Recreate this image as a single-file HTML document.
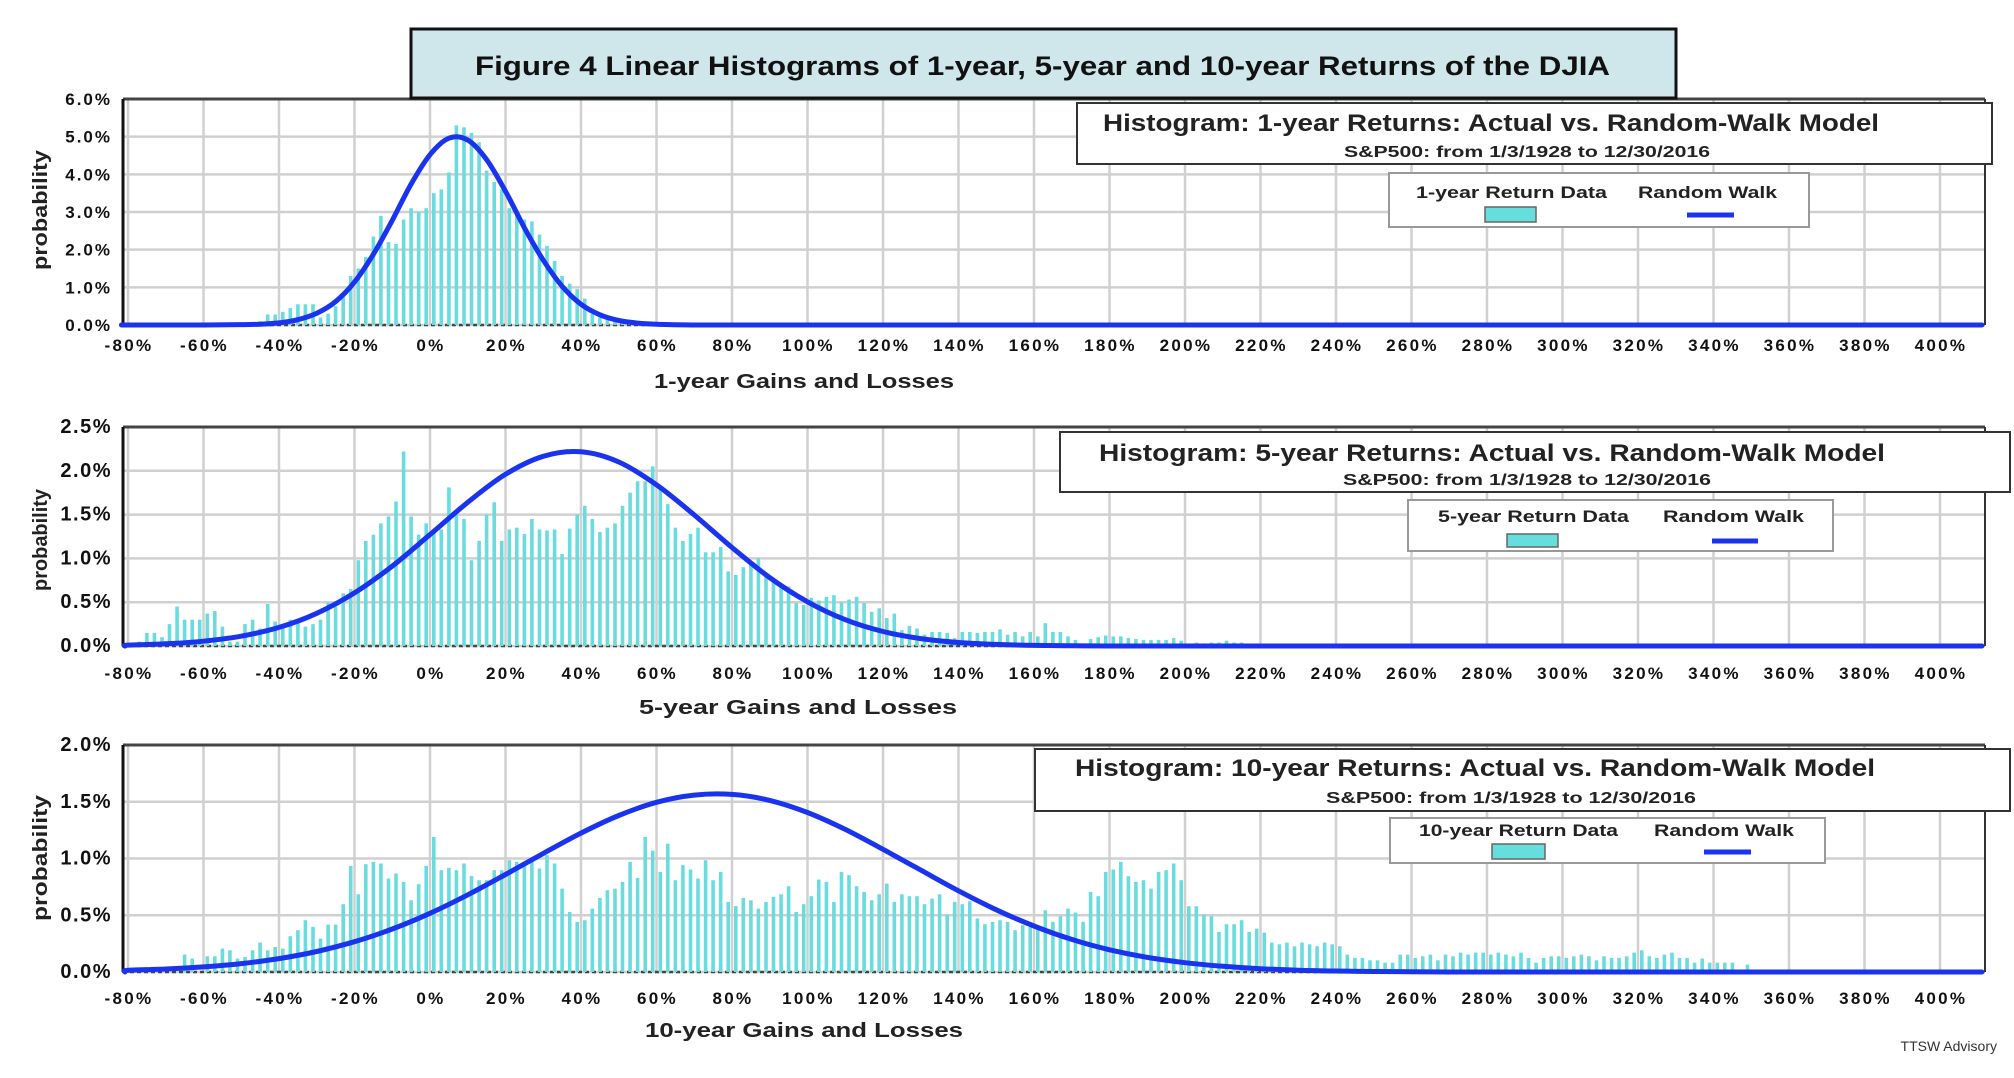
<!DOCTYPE html>
<html><head><meta charset="utf-8"><title>Figure 4 Linear Histograms</title>
<style>
html,body{margin:0;padding:0;background:#fff;}
svg{display:block;font-family:"Liberation Sans",Arial,sans-serif;}
.tk{font-size:17px;font-weight:bold;fill:#111;letter-spacing:2.3px;}
.yt{font-size:17px;font-weight:bold;fill:#111;letter-spacing:2px;}
.yt2{font-size:20px;font-weight:bold;fill:#111;letter-spacing:1.5px;}
.ax{font-size:20px;font-weight:bold;fill:#222;}
.lg{font-size:17px;font-weight:bold;fill:#222;}
.ht{font-size:24px;font-weight:bold;fill:#222;}
.st{font-size:16px;font-weight:bold;fill:#222;}
</style></head>
<body>
<svg id="fig" width="2014" height="1078" viewBox="0 0 2014 1078" xmlns="http://www.w3.org/2000/svg">
<g id="layer-grid"></g>
<g id="layer-bars"></g>
<g id="layer-curve"></g>
<g id="layer-text"></g>

<g>
<rect x="411" y="29" width="1265" height="69" fill="#cfe6ea" stroke="#111" stroke-width="3"/>
<text x="475" y="75" font-size="27" font-weight="bold" fill="#111" textLength="1135" lengthAdjust="spacingAndGlyphs">Figure 4 Linear Histograms of 1-year, 5-year and 10-year Returns of the DJIA</text>
</g>

<g>
<rect x="1077" y="103" width="915" height="61" fill="#fff" stroke="#333" stroke-width="2"/>
<text class="ht" x="1103" y="131" textLength="776" lengthAdjust="spacingAndGlyphs">Histogram: 1-year Returns: Actual vs. Random-Walk Model</text>
<text class="st" x="1344" y="157" textLength="366" lengthAdjust="spacingAndGlyphs">S&amp;P500: from 1/3/1928 to 12/30/2016</text>
</g>
<g>
<rect x="1389" y="173" width="420" height="54" fill="#fff" stroke="#999" stroke-width="2"/>
<text class="lg" x="1416" y="198" textLength="191" lengthAdjust="spacingAndGlyphs">1-year Return Data</text>
<text class="lg" x="1638" y="198" textLength="139" lengthAdjust="spacingAndGlyphs">Random Walk</text>
<rect x="1485" y="207" width="51" height="15" fill="#66dede" stroke="#666" stroke-width="1.5"/>
<line x1="1687" y1="215" x2="1734" y2="215" stroke="#1a33ee" stroke-width="5"/>
</g>

<g>
<rect x="1060" y="432" width="950" height="60" fill="#fff" stroke="#333" stroke-width="2"/>
<text class="ht" x="1099" y="461" textLength="786" lengthAdjust="spacingAndGlyphs">Histogram: 5-year Returns: Actual vs. Random-Walk Model</text>
<text class="st" x="1343" y="485" textLength="368" lengthAdjust="spacingAndGlyphs">S&amp;P500: from 1/3/1928 to 12/30/2016</text>
</g>
<g>
<rect x="1408" y="500" width="425" height="51" fill="#fff" stroke="#999" stroke-width="2"/>
<text class="lg" x="1438" y="522" textLength="191" lengthAdjust="spacingAndGlyphs">5-year Return Data</text>
<text class="lg" x="1663" y="522" textLength="141" lengthAdjust="spacingAndGlyphs">Random Walk</text>
<rect x="1507" y="534" width="51" height="13" fill="#66dede" stroke="#666" stroke-width="1.5"/>
<line x1="1712" y1="541" x2="1758" y2="541" stroke="#1a33ee" stroke-width="5"/>
</g>

<g>
<rect x="1035" y="749" width="975" height="62" fill="#fff" stroke="#333" stroke-width="2"/>
<text class="ht" x="1075" y="776" textLength="800" lengthAdjust="spacingAndGlyphs">Histogram: 10-year Returns: Actual vs. Random-Walk Model</text>
<text class="st" x="1326" y="803" textLength="370" lengthAdjust="spacingAndGlyphs">S&amp;P500: from 1/3/1928 to 12/30/2016</text>
</g>
<g>
<rect x="1390" y="818" width="435" height="45" fill="#fff" stroke="#999" stroke-width="2"/>
<text class="lg" x="1419" y="836" textLength="199" lengthAdjust="spacingAndGlyphs">10-year Return Data</text>
<text class="lg" x="1654" y="836" textLength="140" lengthAdjust="spacingAndGlyphs">Random Walk</text>
<rect x="1492" y="844" width="53" height="15" fill="#66dede" stroke="#666" stroke-width="1.5"/>
<line x1="1704" y1="852" x2="1751" y2="852" stroke="#1a33ee" stroke-width="5"/>
</g>

<text x="1997" y="1051" text-anchor="end" font-size="14" fill="#333">TTSW Advisory</text>
</svg>

<script>
// ---------- shared axis data ----------
const xTickValues = [-80,-60,-40,-20,0,20,40,60,80,100,120,140,160,180,200,220,240,260,280,300,320,340,360,380,400];
const xTickLabels = ["-80%","-60%","-40%","-20%","0%","20%","40%","60%","80%","100%","120%","140%","160%","180%","200%","220%","240%","260%","280%","300%","320%","340%","360%","380%","400%"];

// ---------- panel 1 (1-year) ----------
const yTicks1 = [0,1,2,3,4,5,6];
const yLabels1 = ["0.0%","1.0%","2.0%","3.0%","4.0%","5.0%","6.0%"];
const bins1 = [-57,-53,-49,-47,-45,-43,-41,-39,-37,-35,-33,-31,-29,-27,-25,-23,-21,-19,-17,-15,-13,-11,-9,-7,-5,-3,-1,1,3,5,7,9,11,13,15,17,19,21,23,25,27,29,31,33,35,37,39,41,43,45,47,49,51,53,55,57];
const vals1 = [0.03,0.05,0.04,0.05,0.1,0.28,0.28,0.35,0.45,0.55,0.55,0.55,0.2,0.3,0.5,0.75,1.3,1.5,1.8,2.35,2.9,2.2,2.15,2.8,3.1,3.0,3.1,3.5,3.6,4.05,5.3,5.25,5.1,4.85,4.1,3.8,3.6,3.1,2.95,2.8,2.75,2.4,2.1,1.7,1.3,1.1,0.95,0.7,0.3,0.2,0.15,0.1,0.08,0.05,0.05,0.05];
const curveX1 = [-80,-60,-50,-45,-40,-35,-30,-25,-20,-15,-10,-5,0,5,10,15,20,25,30,35,40,45,50,55,60,70];
const curveY1 = [0,0,0.01,0.02,0.056,0.14,0.31,0.62,1.14,1.88,2.78,3.74,4.52,4.96,4.91,4.39,3.55,2.58,1.72,1.03,0.55,0.27,0.12,0.05,0.02,0];

// ---------- panel 2 (5-year) ----------
const yTicks2 = [0,0.5,1,1.5,2,2.5];
const yLabels2 = ["0.0%","0.5%","1.0%","1.5%","2.0%","2.5%"];
const bins2 = [-77,-75,-73,-71,-69,-67,-65,-63,-61,-59,-57,-55,-53,-51,-49,-47,-45,-43,-41,-39,-37,-35,-33,-31,-29,-27,-25,-23,-21,-19,-17,-15,-13,-11,-9,-7,-5,-3,-1,1,3,5,7,9,11,13,15,17,19,21,23,25,27,29,31,33,35,37,39,41,43,45,47,49,51,53,55,57,59,61,63,65,67,69,71,73,75,77,79,81,83,85,87,89,91,93,95,97,99,101,103,105,107,109,111,113,115,117,119,121,123,125,127,129,131,133,135,137,139,141,143,145,147,149,151,153,155,157,159,161,163,165,167,169,171,173,175,177,179,181,183,185,187,189,191,193,195,197,199,201,203,205,207,209,211,213,215];
const vals2 = [0.05,0.15,0.15,0.1,0.25,0.45,0.3,0.3,0.3,0.37,0.4,0.22,0.05,0.05,0.25,0.3,0.2,0.48,0.28,0.25,0.3,0.27,0.22,0.25,0.3,0.5,0.45,0.6,0.65,0.98,1.2,1.27,1.4,1.48,1.65,2.22,1.48,1.27,1.4,1.3,1.33,1.81,1.5,1.45,0.98,1.2,1.5,1.64,1.2,1.33,1.35,1.28,1.45,1.33,1.32,1.33,1.05,1.34,1.5,1.6,1.45,1.3,1.35,1.4,1.6,1.75,1.88,1.88,2.05,1.83,1.62,1.35,1.2,1.28,1.35,1.07,1.07,
 1.13,0.85,0.81,0.9,0.97,1.0,0.81,0.74,0.68,0.68,0.49,0.47,0.55,0.52,0.56,0.58,0.5,0.53,0.56,0.49,0.39,0.43,0.32,0.37,0.18,0.23,0.2,0.13,0.16,0.16,0.15,0.09,0.16,0.16,0.15,0.16,0.16,0.19,0.13,0.16,0.11,0.16,0.11,0.26,0.16,0.16,0.11,0.07,0.01,0.08,0.1,0.12,0.11,0.11,0.09,0.08,0.07,0.07,0.07,0.07,0.09,0.06,0.03,0.04,0.03,0.04,0.04,0.06,0.04,0.04];
const curveX2 = [-80,-70,-60,-50,-40,-30,-20,-10,0,10,20,30,40,50,60,70,80,90,100,110,120,130,140,150,160,170,180];
const curveY2 = [0.01,0.025,0.055,0.112,0.212,0.373,0.606,0.912,1.272,1.64,1.96,2.166,2.217,2.1,1.84,1.496,1.124,0.78,0.504,0.3,0.166,0.085,0.04,0.018,0.007,0.002,0];

// ---------- panel 3 (10-year) ----------
const yTicks3 = [0,0.5,1,1.5,2];
const yLabels3 = ["0.0%","0.5%","1.0%","1.5%","2.0%"];
const bins3 = [-65,-63,-59,-57,-55,-53,-51,-49,-47,-45,-43,-41,-39,-37,-35,-33,-31,-29,-27,-25,-23,-21,-19,-17,-15,-13,-11,-9,-7,-5,-3,-1,1,3,5,7,9,11,13,15,17,19,21,23,25,27,29,31,33,35,37,39,41,43,45,47,49,51,53,55,57,59,61,63,65,67,69,71,73,75,77,79,81,83,85,87,89,91,93,95,97,99,101,103,105,107,109,111,113,115,117,119,121,123,125,127,129,131,133,135,137,139,141,143,145,147,149,151,153,155,157,159,161,163,165,167,169,171,173,175,177,179,181,183,185,187,189,191,193,195,197,199,201,203,205,207,209,211,213,215,217,219,221,223,225,227,229,231,233,235,237,239,241,243,245,247,249,251,253,255,257,259,261,263,265,267,269,271,273,275,277,279,281,283,285,287,289,291,293,295,297,299,301,303,305,307,309,311,313,315,317,319,321,323,325,327,329,331,333,335,337,339,341,343,345,349];
const vals3 = [0.153,0.118,0.138,0.138,0.206,0.191,0.118,0.132,0.191,0.259,0.191,0.22,0.206,0.315,0.368,0.456,0.397,0.294,0.418,0.418,0.597,0.935,0.685,0.95,0.97,0.956,0.824,0.868,0.794,0.632,0.774,0.935,1.19,0.897,0.918,0.897,0.956,0.847,0.809,0.809,0.897,0.897,0.985,0.971,0.956,0.971,0.912,1.03,0.956,0.735,0.529,0.441,0.456,0.559,0.653,0.721,0.735,0.794,0.971,0.829,1.19,1.07,0.882,1.13,0.809,0.941,0.903,0.824,0.985,0.809,0.882,0.618,0.581,0.653,0.632,
 0.559,0.618,0.662,0.685,0.756,0.529,0.597,0.668,0.815,0.794,0.618,0.882,0.853,0.756,0.706,0.632,0.685,0.779,0.618,0.685,0.668,0.668,0.597,0.647,0.685,0.506,0.618,0.597,0.624,0.471,0.421,0.441,0.456,0.441,0.368,0.412,0.397,0.382,0.544,0.441,0.491,0.559,0.524,0.441,0.706,0.668,0.882,0.903,0.971,0.844,0.794,0.809,0.735,0.882,0.897,0.956,0.809,0.579,0.579,0.506,0.491,0.353,0.421,0.421,0.456,0.353,0.382,0.347,0.259,0.244,0.259,0.226,0.259,0.244,0.226,0.259,0.244,
 0.226,0.153,0.124,0.124,0.103,0.103,0.082,0.082,0.153,0.153,0.124,0.138,0.153,0.103,0.153,0.138,0.171,0.153,0.171,0.171,0.153,0.171,0.153,0.138,0.171,0.124,0.082,0.124,0.138,0.138,0.124,0.138,0.153,0.138,0.103,0.138,0.124,0.124,0.138,0.171,0.191,0.138,0.124,0.153,0.171,0.124,0.124,0.082,0.118,0.082,0.082,0.082,0.082,0.065];
const curveX3 = [-80,-70,-60,-50,-40,-30,-20,-10,0,10,20,30,40,50,60,70,80,90,100,110,120,130,140,150,160,170,180,190,200,210,220,230,240,250,270];
const curveY3 = [0.015,0.026,0.045,0.074,0.118,0.181,0.267,0.379,0.517,0.68,0.859,1.045,1.224,1.379,1.495,1.559,1.565,1.512,1.405,1.256,1.081,0.898,0.715,0.548,0.405,0.287,0.196,0.129,0.082,0.05,0.029,0.016,0.009,0.004,0];

// ---------- layout (pixels, not data) ----------
const X0 = 430, PX = 3.775, PLOT_L = 123, PLOT_R = 1985;
function xs(p){ return X0 + p*PX; }
const panels = [
 {id:'p1', top:99, bottom:325, max:6, yTicks:yTicks1, yLabels:yLabels1, bins:bins1, vals:vals1, cx:curveX1, cy:curveY1, ycls:'yt', xLabY:351, axTitle:'1-year Gains and Losses', axX:654, axY:388, axLen:300, pY:210, pLen:120},
 {id:'p2', top:427, bottom:646, max:2.5, yTicks:yTicks2, yLabels:yLabels2, bins:bins2, vals:vals2, cx:curveX2, cy:curveY2, ycls:'yt2', xLabY:679, axTitle:'5-year Gains and Losses', axX:639, axY:714, axLen:318, pY:540, pLen:102},
 {id:'p3', top:745, bottom:972, max:2, yTicks:yTicks3, yLabels:yLabels3, bins:bins3, vals:vals3, cx:curveX3, cy:curveY3, ycls:'yt2', xLabY:1004, axTitle:'10-year Gains and Losses', axX:645, axY:1037, axLen:318, pY:858, pLen:126}
];
const NS = 'http://www.w3.org/2000/svg';
function mk(tag, attrs, parent){
  const e = document.createElementNS(NS, tag);
  for (const k in attrs) e.setAttribute(k, attrs[k]);
  parent.appendChild(e); return e;
}
const gGrid = document.getElementById('layer-grid');
const gBars = document.getElementById('layer-bars');
const gCurve = document.getElementById('layer-curve');
const gText = document.getElementById('layer-text');

function smoothPath(pts){
  let d = 'M' + pts[0][0].toFixed(1) + ',' + pts[0][1].toFixed(1);
  for (let i=0;i<pts.length-1;i++){
    const p0 = pts[i-1]||pts[i], p1 = pts[i], p2 = pts[i+1], p3 = pts[i+2]||p2;
    const c1x = p1[0]+(p2[0]-p0[0])/6, c1y = p1[1]+(p2[1]-p0[1])/6;
    const c2x = p2[0]-(p3[0]-p1[0])/6, c2y = p2[1]-(p3[1]-p1[1])/6;
    d += ' C'+c1x.toFixed(1)+','+c1y.toFixed(1)+' '+c2x.toFixed(1)+','+c2y.toFixed(1)+' '+p2[0].toFixed(1)+','+p2[1].toFixed(1);
  }
  return d;
}

panels.forEach(function(P){
  const ys = function(v){ return P.bottom - v*(P.bottom-P.top)/P.max; };
  // background
  const bg = mk('rect', {x:PLOT_L, y:P.top, width:PLOT_R-PLOT_L, height:P.bottom-P.top, fill:'#fff'}, gGrid);
  
  
  // horizontal gridlines + y labels
  P.yTicks.forEach(function(t, i){
    const gl = mk('line', {x1:PLOT_L, x2:PLOT_R, y1:ys(t), y2:ys(t), stroke:'#d0d0d0', 'stroke-width':2.5}, gGrid);
    
    
    const tl = mk('text', {x:112, y:ys(t)+6, 'text-anchor':'end', 'class':P.ycls}, gText);
    tl.textContent = P.yLabels[i];
    
    
  });
  // vertical gridlines + x labels
  xTickValues.forEach(function(t, i){
    const gl = mk('line', {x1:xs(t), x2:xs(t), y1:P.top, y2:P.bottom, stroke:'#d0d0d0', 'stroke-width':2.5}, gGrid);
    
    
    const tl = mk('text', {x:xs(t)+1, y:P.xLabY, 'text-anchor':'middle', 'class':'tk'}, gText);
    tl.textContent = xTickLabels[i];
    
    
  });
  // borders
  const bt = mk('line', {x1:PLOT_L, x2:PLOT_R, y1:P.top, y2:P.top, stroke:'#444', 'stroke-width':3}, gGrid);
  
  
  const bl = mk('line', {x1:PLOT_L, x2:PLOT_L, y1:P.top, y2:P.bottom, stroke:'#111', 'stroke-width':3}, gGrid);
  
  
  const br = mk('line', {x1:PLOT_R, x2:PLOT_R, y1:P.top, y2:P.bottom, stroke:'#333', 'stroke-width':2}, gGrid);
  
  
  const bz = mk('line', {x1:PLOT_L, x2:PLOT_R, y1:P.bottom, y2:P.bottom, stroke:'#444', 'stroke-width':2.5, 'stroke-dasharray':'4,3'}, gGrid);
  
  
  // bars
  P.bins.forEach(function(c, i){
    const v = P.vals[i];
    const r = mk('rect', {x:(xs(c)-1.8).toFixed(1), y:ys(v).toFixed(1), width:3.6, height:(P.bottom-ys(v)).toFixed(1), fill:'#6adcde'}, gBars);
    
    
  });
  // curve
  const pts = [[PLOT_L+2, ys(0)]];
  P.cx.forEach(function(x, i){ if (xs(x) > PLOT_L+2) pts.push([xs(x), ys(P.cy[i])]); });
  const last = pts[pts.length-1];
  let d = smoothPath(pts) + ' L' + (PLOT_R-3) + ',' + last[1].toFixed(1);
  const cv = mk('path', {d:d, fill:'none', stroke:'#1a33ee', 'stroke-width':5, 'stroke-linejoin':'round', 'stroke-linecap':'round'}, gCurve);
  
  
  // axis titles
  const at = mk('text', {x:P.axX, y:P.axY, 'class':'ax', textLength:P.axLen, lengthAdjust:'spacingAndGlyphs'}, gText);
  at.textContent = P.axTitle;
  
  
  const yt = mk('text', {x:0, y:0, 'class':'ax', 'text-anchor':'middle', transform:'translate(47,'+P.pY+') rotate(-90)', textLength:P.pLen, lengthAdjust:'spacingAndGlyphs'}, gText);
  yt.textContent = 'probability';
  
  
});
</script>
</body></html>
